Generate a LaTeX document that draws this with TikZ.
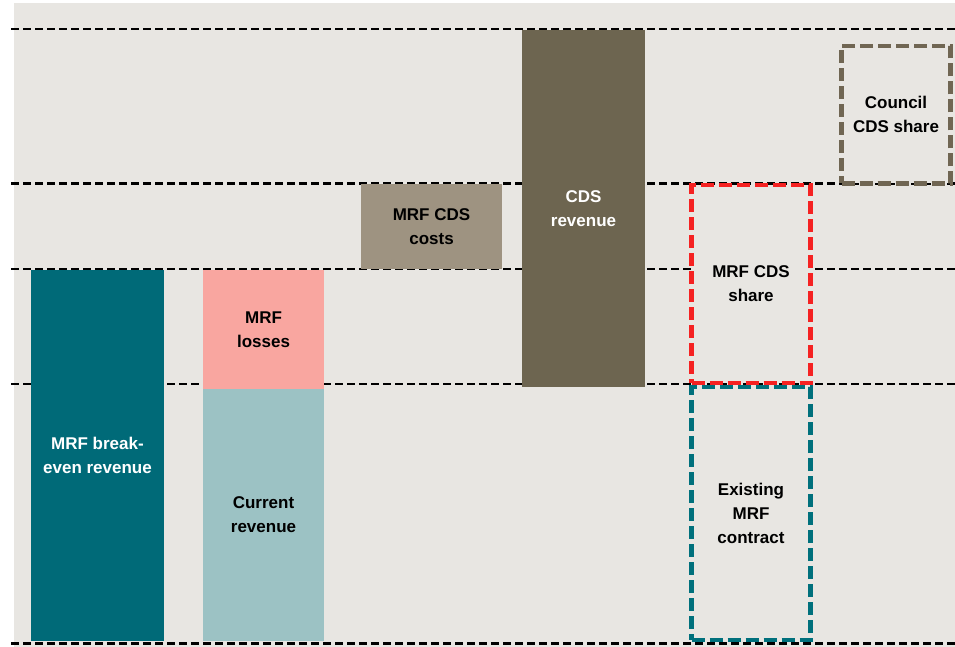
\documentclass[tikz,border=0pt]{standalone}
\usepackage{fontspec}
\setmainfont{Liberation Sans}
\begin{document}
\begin{tikzpicture}[x=1pt,y=-1pt,
  level/.style={line width=2.8pt,dash pattern=on 8pt off 4pt,black},
  bar/.style={anchor=north west,inner sep=0pt,outer sep=0pt,align=center,
    font=\fontsize{17}{24}\selectfont\bfseries},
  share/.style={bar,fill=panel,draw,line width=4.5pt,dash pattern=on 13pt off 5pt},
]
\definecolor{panel}{HTML}{E8E6E2}
\definecolor{tealdark}{HTML}{006A78}
\definecolor{teallight}{HTML}{9CC2C4}
\definecolor{pinkloss}{HTML}{F9A6A0}
\definecolor{costgrey}{HTML}{9E9381}
\definecolor{cdsbrown}{HTML}{6D6550}
\definecolor{sharered}{HTML}{F52222}
\definecolor{shareteal}{HTML}{00707C}
\definecolor{councilbrown}{HTML}{706653}

\useasboundingbox (0,0) rectangle (955,647);
\fill[panel] (14,3) rectangle (955,647);

% revenue levels
\foreach \yy/\nm in {29/top,183.5/upper,269/mid,384/lower,643.5/base}{
  \coordinate (\nm-l) at (11,\yy);
  \coordinate (\nm-r) at (955,\yy);
  \draw[level] (\nm-l) -- (\nm-r);
}

% solid bars
\node[bar,fill=tealdark,text=white,minimum width=133pt,minimum height=371pt]
  (breakeven) at (31,270) {MRF break-\\even revenue};
\node[bar,fill=teallight,minimum width=121pt,minimum height=252pt]
  (current) at (203,389) {Current\\revenue};
\node[bar,fill=pinkloss,minimum width=121pt,minimum height=119pt]
  (losses) at (203,270) {MRF\\losses};
\node[bar,fill=costgrey,minimum width=141pt,minimum height=85pt]
  (costs) at (361,184) {MRF CDS\\costs};
\node[bar,fill=cdsbrown,text=white,minimum width=123pt,minimum height=357pt]
  (cdsrev) at (522,30) {CDS\\revenue};

% dashed shares
\node[share,draw=shareteal,minimum width=119pt,minimum height=253pt]
  (contract) at (691.5,387) {Existing\\MRF\\contract};
\node[share,draw=sharered,minimum width=119pt,minimum height=198pt]
  (mrfshare) at (691.5,185) {MRF CDS\\share};
\node[share,draw=councilbrown,minimum width=109pt,minimum height=137.5pt]
  (council) at (841.5,46) {Council\\CDS share};
\end{tikzpicture}
\end{document}
